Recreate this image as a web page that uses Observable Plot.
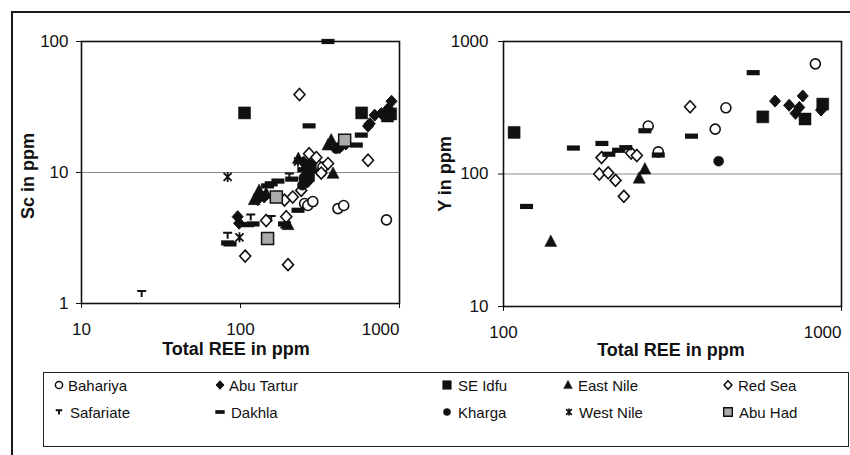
<!DOCTYPE html>
<html><head><meta charset="utf-8">
<script src="https://cdn.jsdelivr.net/npm/d3@7"></script>
<script src="https://cdn.jsdelivr.net/npm/@observablehq/plot@0.6"></script>
<style>
body{margin:0;background:#fff;font-family:"Liberation Sans",Arial,sans-serif;}
#wrap{position:relative;width:850px;height:455px;overflow:hidden;background:#fff}
#frame{position:absolute;left:11px;top:11px;width:860px;height:470px;border:2px solid #1a1a1a;box-sizing:border-box}
#left,#right{position:absolute;top:0}
#left{left:0} #right{left:425px}
#legend{position:absolute;left:43px;top:372px;width:806px;height:75px;border:1.5px solid #222;box-sizing:border-box;background:#fff}
.t{position:absolute;font-weight:bold;font-size:18px;white-space:nowrap;transform:translate(-50%,-50%);color:#111}
.ty{transform:translate(-50%,-50%) rotate(-90deg)}
.li{position:absolute;font-size:15px;white-space:nowrap;transform:translateY(-50%);color:#111}
.ic{position:absolute;transform:translate(-50%,-50%)}
</style></head>
<body><div id="wrap"><div id="frame"></div><div id="left"></div><div id="right"></div>
<div class="t ty" style="left:28px;top:176px">Sc in ppm</div>
<div class="t" style="left:236px;top:349px">Total REE in ppm</div>
<div class="t ty" style="left:445px;top:174px">Y in ppm</div>
<div class="t" style="left:671px;top:350px">Total REE in ppm</div>
<div id="legend"></div>
</div>
<script>
// ---------- data: left panel (Sc vs total REE) ----------
const bahariyaReeL = [253, 265, 285, 322, 410, 446, 828, 300, 330];
const bahariyaSc   = [5.8, 5.6, 6.0, 10.1, 5.3, 5.6, 4.35, 11.5, 11.0];
const abuTarturReeL = [96, 98, 128, 141, 250, 262, 255, 265, 275, 420, 634, 698, 769, 850, 891, 870, 650, 460];
const abuTarturSc   = [4.6, 4.1, 6.2, 6.5, 12, 10.8, 9.5, 8.5, 11.5, 15.5, 22.6, 27.4, 28.2, 30.8, 35, 29, 23.6, 16.5];
const seIdfuReeL = [106, 578, 880, 840, 268, 275];
const seIdfuSc   = [28.5, 28.5, 28, 27, 9.5, 11];
const eastNileReeL = [372, 355, 382, 194, 199, 131, 122, 145, 231];
const eastNileSc   = [17.7, 16.2, 9.85, 4.1, 4.0, 7.3, 6.2, 6.9, 12.8];
const redSeaReeL = [235, 270, 355, 322, 634, 107, 199, 194, 189, 213, 241, 145, 300];
const redSeaSc   = [39.4, 13.9, 11.7, 9.9, 12.4, 2.3, 1.98, 4.6, 6.15, 6.5, 7.3, 4.3, 13];
const safariateReeL = [23.9, 83, 116, 156, 203];
const safariateSc   = [1.19, 3.32, 4.58, 4.46, 9.4];
const dakhlaReeL = [355, 270, 575, 535, 230, 83, 111, 156, 172, 148, 189, 250, 210, 120, 86];
const dakhlaSc   = [100, 22.7, 19.3, 16.2, 5.15, 2.9, 4.0, 8.2, 8.6, 7.9, 4.05, 10.5, 8.9, 4.05, 2.85];
const khargaReeL = [420, 400, 250, 258, 245];
const khargaSc   = [15.7, 15.2, 9, 11.5, 8];
const westNileReeL = [83, 98.5, 230];
const westNileSc   = [9.25, 3.2, 12.1];
const abuHadReeL = [148, 168, 452];
const abuHadSc   = [3.13, 6.5, 17.6];

// ---------- data: right panel (Y vs total REE) ----------
const bahariyaReeR = [268, 287, 423, 455, 837];
const bahariyaY    = [230, 147, 218, 316, 678];
const abuTarturReeR = [636, 700, 768, 731, 750, 870];
const abuTarturY    = [355, 330, 388, 287, 318, 304];
const seIdfuReeR = [107.5, 585, 780, 880];
const seIdfuY    = [206, 270, 260, 337];
const eastNileReeR = [138, 252, 262];
const eastNileY    = [31, 93, 109];
const redSeaReeR = [195, 238.6, 248, 192, 204, 214.5, 227, 356.5];
const redSeaY    = [133, 144, 138, 100, 102, 89.5, 67.8, 322];
const dakhlaReeR = [117, 161, 195.5, 205, 219, 230, 262, 287, 360, 548];
const dakhlaY    = [56.9, 157, 170, 141, 151, 158, 212, 139, 193, 582];
const khargaReeR = [433];
const khargaY    = [125];

const xTicksL = [10, 100, 1000], yTicksL = [1, 10, 100];
const xTicksR = [100, 1000], yTicksR = [10, 100, 1000];

// ---------- symbols ----------
const sym = {
  circle: {draw(c){c.moveTo(5,0);c.arc(0,0,5,0,2*Math.PI);c.closePath();}},
  diamond: {draw(c){c.moveTo(0,-6);c.lineTo(5.5,0);c.lineTo(0,6);c.lineTo(-5.5,0);c.closePath();}},
  square: {draw(c){c.rect(-6,-6,12,12);}},
  triangle: {draw(c){c.moveTo(0,-6.5);c.lineTo(6,5);c.lineTo(-6,5);c.closePath();}},
  dash: {draw(c){c.rect(-6.5,-2.6,13,5.2);}},
  tee: {draw(c){c.moveTo(-4.5,-2.5);c.lineTo(4.5,-2.5);c.moveTo(0,-2.5);c.lineTo(0,3.5);}},
  star: {draw(c){c.moveTo(-4,-4);c.lineTo(4,4);c.moveTo(4,-4);c.lineTo(-4,4);c.moveTo(0,-5);c.lineTo(0,5);}}
};

const series = [
  {name:"Bahariya", xl:bahariyaReeL, yl:bahariyaSc, xr:bahariyaReeR, yr:bahariyaY, s:sym.circle, fill:"white", stroke:"#111", sw:1.6},
  {name:"Abu Tartur", xl:abuTarturReeL, yl:abuTarturSc, xr:abuTarturReeR, yr:abuTarturY, s:sym.diamond, fill:"#111", stroke:"#111", sw:1},
  {name:"SE Idfu", xl:seIdfuReeL, yl:seIdfuSc, xr:seIdfuReeR, yr:seIdfuY, s:sym.square, fill:"#111", stroke:"#111", sw:0.5},
  {name:"East Nile", xl:eastNileReeL, yl:eastNileSc, xr:eastNileReeR, yr:eastNileY, s:sym.triangle, fill:"#111", stroke:"#111", sw:0.5},
  {name:"Red Sea", xl:redSeaReeL, yl:redSeaSc, xr:redSeaReeR, yr:redSeaY, s:sym.diamond, fill:"white", stroke:"#111", sw:1.6},
  {name:"Safariate", xl:safariateReeL, yl:safariateSc, xr:[], yr:[], s:sym.tee, fill:"none", stroke:"#111", sw:2},
  {name:"Dakhla", xl:dakhlaReeL, yl:dakhlaSc, xr:dakhlaReeR, yr:dakhlaY, s:sym.dash, fill:"#111", stroke:"none", sw:0},
  {name:"Kharga", xl:khargaReeL, yl:khargaSc, xr:khargaReeR, yr:khargaY, s:sym.circle, fill:"#111", stroke:"#111", sw:0.5},
  {name:"West Nile", xl:westNileReeL, yl:westNileSc, xr:[], yr:[], s:sym.star, fill:"none", stroke:"#111", sw:1.8},
  {name:"Abu Had", xl:abuHadReeL, yl:abuHadSc, xr:[], yr:[], s:sym.square, fill:"#aaa", stroke:"#111", sw:1.5}
];

const fmt = d => String(d);
const axisStyle = {fontSize: 17, tickSize: 5};

function panel(side, xDom, yDom, xT, yT, rule, m) {
  const marks = [
    Plot.ruleY([rule], {stroke:"#888", strokeWidth:1}),
    Plot.axisY({ticks: yT, tickFormat: fmt, ...axisStyle, tickPadding: m.yPad, label: null}),
    Plot.axisX({ticks: xT.slice(0, -1), tickFormat: fmt, ...axisStyle, tickPadding: 14, label: null}),
    Plot.axisX({ticks: xT.slice(-1), tickFormat: fmt, ...axisStyle, tickPadding: 14, label: null, textAnchor: "end"}),
  ];
  for (const s of series) {
    const xs = side === "l" ? s.xl : s.xr, ys = side === "l" ? s.yl : s.yr;
    if (!xs.length) continue;
    const rows = xs.map((x, i) => ({x, y: ys[i]}));
    marks.push(Plot.dot(rows, {x:"x", y:"y", r:5, symbol:s.s, fill:s.fill, stroke:s.stroke, strokeWidth:s.sw}));
  }
  marks.push(Plot.frame({stroke:"#111", strokeWidth:1.6}));
  return Plot.plot({
    width: 425, height: 370,
    marginLeft: m.l, marginRight: m.r, marginTop: 41, marginBottom: m.b,
    style: {fontFamily: '"Liberation Sans", Arial, sans-serif', color: "#111", background: "transparent", overflow: "visible"},
    x: {type: "log", domain: xDom},
    y: {type: "log", domain: yDom},
    marks
  });
}

document.getElementById("left").append(panel("l", [10, 1000], [1, 100], xTicksL, yTicksL, 10, {l:81, r:26, b:67, yPad:8}));
document.getElementById("right").append(panel("r", [100, 1000], [10, 1000], xTicksR, yTicksR, 100, {l:78, r:9, b:64, yPad:10}));

// ---------- legend ----------
const legendPos = [
  [58, 67, 384], [219, 228, 384], [446, 457, 384], [567, 577, 384], [727, 737, 384],
  [58, 69, 411], [219, 230, 411], [446, 457, 411], [568, 578, 411], [727, 738, 411]
];
const lg = document.getElementById("legend");
series.forEach((s, i) => {
  const [ix, tx, cy] = legendPos[i];
  const p = d3.path(); s.s.draw(p, 0);
  const ic = document.createElement("div");
  ic.className = "ic"; ic.style.left = (ix - 43) + "px"; ic.style.top = (cy - 372) + "px";
  ic.innerHTML = `<svg width="14" height="14" viewBox="-7 -7 14 14" style="display:block"><path d="${p}" transform="scale(0.72)" fill="${s.fill}" stroke="${s.stroke}" stroke-width="${s.sw ? s.sw * 1.3 : 0}"/></svg>`;
  lg.append(ic);
  const t = document.createElement("div");
  t.className = "li"; t.textContent = s.name;
  t.style.left = (tx - 43) + "px"; t.style.top = (cy - 372) + "px";
  lg.append(t);
});
</script></body></html>
